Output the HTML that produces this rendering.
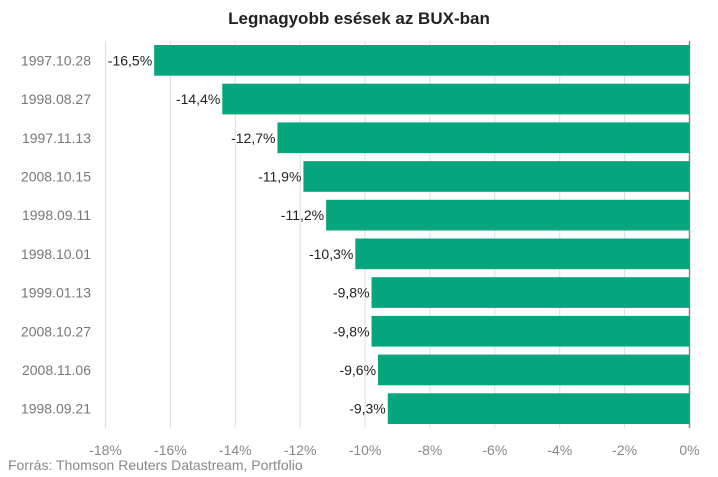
<!DOCTYPE html>
<html><head><meta charset="utf-8"><style>
html,body{margin:0;padding:0;background:#fff;width:718px;height:477px;overflow:hidden}
svg{font-family:"Liberation Sans",sans-serif}
</style></head><body>
<svg id="chart" width="718" height="477" viewBox="0 0 718 477">
<text x="359" y="24" text-anchor="middle" font-size="17" font-weight="bold" fill="#222">Legnagyobb esések az BUX-ban</text>
<g id="grid"></g><g id="bars"></g><g id="labels"></g>
<text x="8" y="470" font-size="14" fill="#888">Forrás: Thomson Reuters Datastream, Portfolio</text>
</svg>
<script>
const categories=["1997.10.28","1998.08.27","1997.11.13","2008.10.15","1998.09.11","1998.10.01","1999.01.13","2008.10.27","2008.11.06","1998.09.21"];
const values=[-16.5,-14.4,-12.7,-11.9,-11.2,-10.3,-9.8,-9.8,-9.6,-9.3];
const ticks=[-18,-16,-14,-12,-10,-8,-6,-4,-2,0];
const NS="http://www.w3.org/2000/svg";
const x0=105.5,x1=689.5,plotTop=41,plotBottom=428;
const xs=v=>x0+(v+18)/18*(x1-x0);
const band=(plotBottom-plotTop)/categories.length;
const ys=i=>plotTop+i*band;
function mk(t,a,p){const e=document.createElementNS(NS,t);for(const k in a)e.setAttribute(k,a[k]);p.appendChild(e);return e;}
const grid=document.getElementById('grid'),bars=document.getElementById('bars'),labels=document.getElementById('labels');
ticks.forEach(t=>{
 const l=mk('line',{x1:xs(t),x2:xs(t),y1:plotTop,y2:plotBottom,stroke:t===0?'#888':'#ddd','stroke-width':t===0?1.5:1},grid);
 
 
 const tx=mk('text',{x:xs(t),y:455,'text-anchor':'middle','font-size':14,fill:'#888'},grid);
 tx.textContent=t+'%';
 
 
});
categories.forEach((c,i)=>{
 const v=values[i],y=ys(i)+4,h=band-8;
 const r=mk('rect',{x:xs(v),y:y,width:xs(0)-xs(v),height:h,fill:'#05a57e'},bars);
 
 
 const cl=mk('text',{x:91,y:y+h/2+5,'text-anchor':'end','font-size':14,fill:'#777'},labels);
 cl.textContent=c;
 
 
 const vl=mk('text',{x:xs(v)-2,y:y+h/2+5,'text-anchor':'end','font-size':14,fill:'#222'},labels);
 vl.textContent=v.toFixed(1).replace('.',',')+'%';
 
 
});
</script>
</body></html>
